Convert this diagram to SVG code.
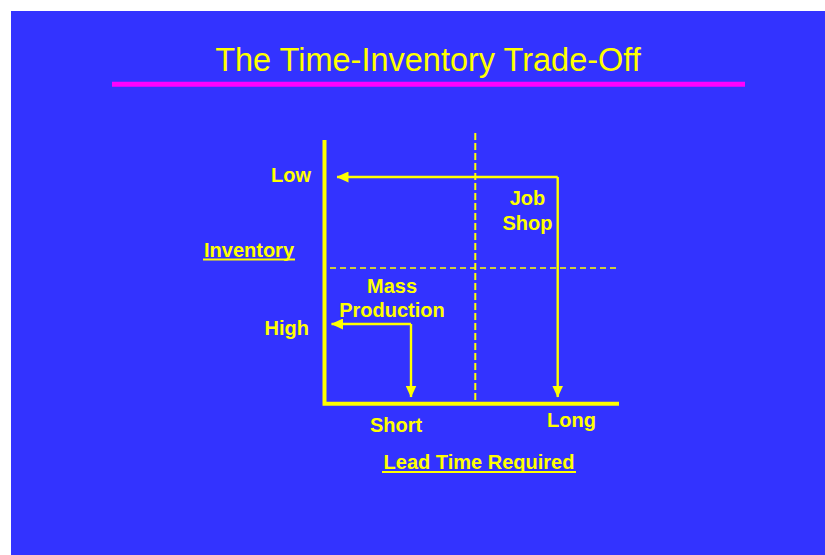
<svg xmlns="http://www.w3.org/2000/svg" width="825" height="555" viewBox="0 0 825 555">
<defs>
<style>
.t{font-family:"Liberation Sans",Arial,sans-serif;font-weight:bold;font-size:20px;fill:#FFFF00}
.title{font-family:"Liberation Sans",Arial,sans-serif;font-size:32.5px;fill:#FFFF00}
.axis{stroke:#FFFF00;stroke-width:4;fill:none}
.dash{stroke:#FFFF00;fill:none}
.conn{stroke:#FFFF00;stroke-width:2.4;fill:none}
.ul{stroke:#FFFF00;stroke-width:2.2}
</style>
<marker id="ah" viewBox="0 0 12 11" refX="11.5" refY="5.5" markerWidth="12" markerHeight="11" markerUnits="userSpaceOnUse" orient="auto">
<path d="M0,0 L12,5.5 L0,11 Z" fill="#FFFF00"/>
</marker>
</defs>
<rect x="0" y="0" width="825" height="555" fill="#FFFFFF"/>
<rect x="11" y="11" width="814" height="544" fill="#3333FF"/>
<g id="title">
<text class="title" x="428" y="71" text-anchor="middle">The Time-Inventory Trade-Off</text>
<line x1="112" y1="84.3" x2="745" y2="84.3" stroke="#FF00FF" stroke-width="5"/>
</g>
<g id="axes">
<path class="axis" d="M324.5,140 V403.7 H619"/>
<line class="dash" x1="475.3" y1="133" x2="475.3" y2="402" stroke-width="2" stroke-dasharray="7,3"/>
<line class="dash" x1="330" y1="268" x2="620" y2="268" stroke-width="1.3" stroke-dasharray="6,4"/>
</g>
<g id="labels">
<text class="t" x="311" y="182" text-anchor="end">Low</text>
<text class="t" x="309" y="335" text-anchor="end">High</text>
<text class="t" x="249" y="257" text-anchor="middle">Inventory</text>
<line class="ul" x1="203" y1="259.5" x2="295" y2="259.5"/>
<text class="t" x="396" y="432" text-anchor="middle">Short</text>
<text class="t" x="571.5" y="426.5" text-anchor="middle">Long</text>
<text class="t" x="479" y="469" text-anchor="middle">Lead Time Required</text>
<line class="ul" x1="382" y1="472" x2="576" y2="472"/>
</g>
<g id="job-shop">
<text class="t" x="527.5" y="205" text-anchor="middle">Job</text>
<text class="t" x="527.5" y="229.5" text-anchor="middle">Shop</text>
</g>
<g id="mass-production">
<text class="t" x="392" y="293" text-anchor="middle">Mass</text>
<text class="t" x="392" y="317" text-anchor="middle">Production</text>
</g>
<g id="connectors">
<path class="conn" d="M557.7,177 H337" marker-end="url(#ah)"/>
<path class="conn" d="M557.7,177 V397" marker-end="url(#ah)"/>
<path class="conn" d="M411,324 H331.5" marker-end="url(#ah)"/>
<path class="conn" d="M411,324 V397" marker-end="url(#ah)"/>
</g>
</svg>
